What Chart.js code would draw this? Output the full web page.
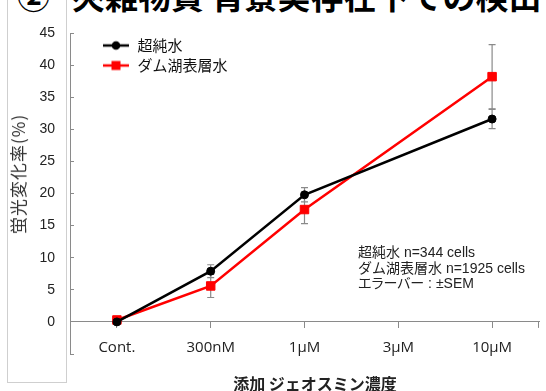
<!DOCTYPE html>
<html><head><meta charset="utf-8">
<script src="https://cdn.jsdelivr.net/npm/chart.js@4/dist/chart.umd.min.js"></script>
<style>
html,body{margin:0;padding:0;background:#fff;}
#wrap{position:relative;width:546px;height:391px;overflow:hidden;background:#fff;}
#c{position:absolute;left:0;top:0;}
.frame{position:absolute;left:7px;top:-2px;width:58px;height:384px;border:1px solid #cfcfcf;border-top:none;}
.t{position:absolute;top:-21px;font:bold 33px "Noto Sans CJK JP";line-height:33px;white-space:nowrap;color:#000;}
.ytitle{position:absolute;left:18px;top:174px;transform:translate(-50%,-50%) rotate(-90deg);font:17px "Noto Sans CJK JP";letter-spacing:1px;color:#333;white-space:nowrap;line-height:18px;}
.xtitle{position:absolute;left:315px;top:383px;transform:translate(-50%,-50%);font:bold 16px "Noto Sans CJK JP";color:#222;white-space:nowrap;line-height:18px;}
.note{position:absolute;left:358px;top:245px;font:14px "Liberation Sans","Noto Sans CJK JP";line-height:15.5px;color:#222;white-space:nowrap;}
.palt{font-feature-settings:"palt";}
</style></head>
<body><div id="wrap">
<div class="frame"></div>
<div class="t" style="left:17px">②</div>
<div class="t" style="left:72px">夾雑物質 背景実存在下での検出</div>
<canvas id="c" width="546" height="391"></canvas>
<div class="ytitle">蛍光変化率(%)</div>
<div class="xtitle">添加 ジェオスミン濃度</div>
<div class="note">超純水 n=344 cells<br>ダム湖表層水 n=1925 cells<br><span class="palt">エラーバー</span> : ±SEM</div>
</div>
<script>
const categories = ['Cont.', '300nM', '1µM', '3µM', '10µM'];
const seriesNames = ['超純水', 'ダム湖表層水'];
const pureWater = [0, 7.9, 19.8, null, 31.6];
const pureWaterErr = [0, 1.0, 1.1, null, 1.5];
const damWater = [0.3, 5.6, 17.5, null, 38.2];
const damWaterErr = [0, 1.8, 2.2, null, 5.0];
const yMin = -5, yMax = 45, yStep = 5;

function legendIcon(color, shape) {
  const c = document.createElement('canvas');
  c.width = 55; c.height = 14;
  const g = c.getContext('2d');
  g.strokeStyle = color; g.lineWidth = 2.5;
  g.beginPath(); g.moveTo(28, 7); g.lineTo(54, 7); g.stroke();
  g.fillStyle = color;
  if (shape === 'circle') { g.beginPath(); g.arc(41, 7, 4.3, 0, Math.PI * 2); g.fill(); }
  else { g.fillRect(36.5, 2.5, 9, 9); }
  return c;
}
const icons = [legendIcon('#000000', 'circle'), legendIcon('#ff0000', 'rect')];

const errorBars = {
  id: 'errorBars',
  beforeDatasetsDraw(chart) {
    const {ctx, scales: {x, y}} = chart;
    ctx.save();
    ctx.strokeStyle = '#8a8a8a';
    ctx.lineWidth = 1.2;
    [[pureWater, pureWaterErr], [damWater, damWaterErr]].forEach(([vals, errs]) => {
      vals.forEach((v, i) => {
        if (v == null || !errs[i]) return;
        const px = x.getPixelForValue(i);
        const top = y.getPixelForValue(v + errs[i]);
        const bot = y.getPixelForValue(v - errs[i]);
        ctx.beginPath();
        ctx.moveTo(px, top); ctx.lineTo(px, bot);
        ctx.moveTo(px - 3.5, top); ctx.lineTo(px + 3.5, top);
        ctx.moveTo(px - 3.5, bot); ctx.lineTo(px + 3.5, bot);
        ctx.stroke();
      });
    });
    ctx.restore();
  },
  afterDraw(chart) {
    const {ctx, scales: {y}, chartArea} = chart;
    const y0 = y.getPixelForValue(0);
    ctx.save();
    ctx.strokeStyle = '#8a8a8a'; ctx.lineWidth = 1;
    ctx.beginPath();
    ctx.moveTo(chartArea.right - 0.5, y0); ctx.lineTo(chartArea.right - 0.5, y0 + 6);
    ctx.stroke();
    ctx.restore();
  }
};

new Chart(document.getElementById('c'), {
  type: 'line',
  data: {
    labels: categories,
    datasets: [
      {label: seriesNames[0], data: pureWater, borderColor: '#000000', backgroundColor: '#000000',
       borderWidth: 2.5, pointStyle: 'circle', pointRadius: 4, pointBorderWidth: 1, pointHoverRadius: 4, spanGaps: true, tension: 0},
      {label: seriesNames[1], data: damWater, borderColor: '#ff0000', backgroundColor: '#ff0000',
       borderWidth: 2.5, pointStyle: 'rect', pointRadius: 6, pointBorderWidth: 1, pointHoverRadius: 6, spanGaps: true, tension: 0}
    ]
  },
  options: {
    responsive: false,
    animation: false,
    devicePixelRatio: 1,
    layout: {padding: {top: 33, right: 6, bottom: 37, left: 0}},
    plugins: {
      tooltip: {enabled: false},
      legend: {
        position: 'chartArea', align: 'start',
        title: {display: true, text: ' ', padding: {top: 23, bottom: 0}, font: {size: 10, lineHeight: 1}},
        labels: {
          usePointStyle: true, pointStyleWidth: 55, boxHeight: 14, padding: 5,
          color: '#111', font: {family: '"Noto Sans CJK JP"', size: 15},
          generateLabels: (chart) => chart.data.datasets.map((d, i) => ({
            text: d.label, pointStyle: icons[i], fillStyle: d.borderColor, strokeStyle: d.borderColor,
            lineWidth: 0, hidden: false, datasetIndex: i, fontColor: '#111'
          }))
        }
      }
    },
    scales: {
      x: {
        type: 'category', offset: true,
        position: {y: 0},
        border: {color: '#8a8a8a', width: 1},
        grid: {drawOnChartArea: false, drawTicks: true, tickLength: 6, offset: false, color: '#8a8a8a'},
        ticks: {color: '#222', font: {family: '"Open Sans"', size: 15}, padding: 11, maxRotation: 0, autoSkip: false}
      },
      y: {
        position: 'left', min: yMin, max: yMax,
        afterFit: (s) => { s.width = 70; },
        border: {color: '#8a8a8a', width: 1},
        grid: {drawOnChartArea: false, drawTicks: true, tickLength: -4, color: '#8a8a8a'},
        ticks: {stepSize: yStep, color: '#222', font: {family: '"Liberation Sans"', size: 14}, padding: 19,
          callback: (v) => (v < 0 ? '' : v)}
      }
    }
  },
  plugins: [errorBars]
});
</script>
</body></html>
